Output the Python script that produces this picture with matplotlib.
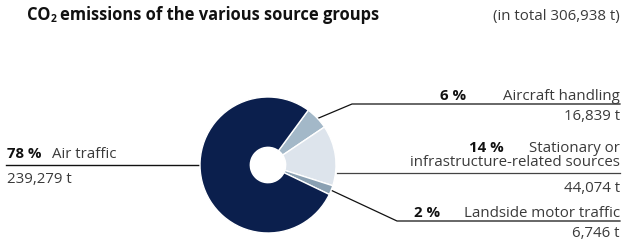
import numpy as np
import matplotlib
matplotlib.use("Agg")
import matplotlib.pyplot as plt

# Data
categories = ["Aircraft handling", "Stationary or\ninfrastructure-related sources",
              "Landside motor traffic", "Air traffic"]
values_t = [16839, 44074, 6746, 239279]
percent_labels = ["6 %", "14 %", "2 %", "78 %"]
tonnage_labels = ["16,839 t", "44,074 t", "6,746 t", "239,279 t"]
total_label = "(in total 306,938 t)"

colors = ["#a3b8c8", "#dde4ec", "#8aa0b2", "#0b1f4d"]
FONT = "Open Sans"
TXT = "#3a3a3a"

W, H = 624, 243
fig = plt.figure(figsize=(W / 100, H / 100), dpi=100)
ov = fig.add_axes([0, 0, 1, 1])
ov.set_xlim(0, W)
ov.set_ylim(H, 0)
ov.axis("off")

# pie geometry (pixels)
cx, cy, R = 268, 165, 68
pax = fig.add_axes([(cx - R) / W, (H - cy - R) / H, 2 * R / W, 2 * R / H])
wedges, _ = pax.pie(values_t, colors=colors, startangle=53.7, counterclock=False,
                    radius=1, wedgeprops=dict(width=0.74, edgecolor="white", linewidth=1))
pax.set_xlim(-1, 1)
pax.set_ylim(-1, 1)
pax.set_aspect("equal")
pax.axis("off")

def rim(theta, r=1.0):
    t = np.deg2rad(theta)
    return cx + R * r * np.cos(t), cy - R * r * np.sin(t)

fs = 10.8
tfs = 11.9
# Title (CO₂ built from pieces for a proper subscript)
t_co = ov.text(27, 20, "CO", fontsize=tfs, fontweight="bold", family=FONT, color="#111111",
               va="baseline", ha="left")
fig.canvas.draw()
bb = t_co.get_window_extent()
t_2 = ov.text(bb.x1 + 0.5, 22.5, "2", fontsize=7.5, fontweight="bold", family=FONT,
              color="#111111", va="baseline", ha="left", transform=None)
t_2.set_transform(matplotlib.transforms.blended_transform_factory(
    matplotlib.transforms.IdentityTransform(), ov.transData))
fig.canvas.draw()
bb2 = t_2.get_window_extent()
t_rest = ov.text(bb2.x1 + 3, 20, "emissions of the various source groups", fontsize=tfs,
                 fontweight="bold", family=FONT, color="#111111", va="baseline", ha="left")
t_rest.set_transform(matplotlib.transforms.blended_transform_factory(
    matplotlib.transforms.IdentityTransform(), ov.transData))
ov.text(620, 20, total_label, fontsize=fs, family=FONT, color=TXT, va="baseline", ha="right")

# Left label: Air traffic
lc = "#111111"
ov.plot([6, cx - R], [164.5, 164.5], color=lc, lw=1)
ov.text(7, 158, percent_labels[3], fontsize=fs, fontweight="bold", family=FONT,
        color="#111111", ha="left", va="baseline")
ov.text(52, 158, categories[3], fontsize=fs, family=FONT, color=TXT, ha="left", va="baseline")
ov.text(7, 183, tonnage_labels[3], fontsize=fs, family=FONT, color=TXT, ha="left", va="baseline")

# Aircraft handling
w = wedges[0]
mid = (w.theta1 + w.theta2) / 2
x0, y0 = rim(mid, 0.97)
ov.plot([x0, 352, 620], [y0, 104, 104], color=lc, lw=0.9)
ov.text(466, 100, percent_labels[0], fontsize=fs, fontweight="bold", family=FONT,
        color="#111111", ha="right", va="baseline")
ov.text(620, 100, categories[0], fontsize=fs, family=FONT, color=TXT, ha="right", va="baseline")
ov.text(620, 120, tonnage_labels[0], fontsize=fs, family=FONT, color=TXT, ha="right", va="baseline")

# Stationary
ov.plot([cx + R + 1, 620], [172.7, 172.7], color="#444444", lw=0.9)
ov.text(504, 151.5, percent_labels[1], fontsize=fs, fontweight="bold", family=FONT,
        color="#111111", ha="right", va="baseline")
ov.text(620, 151.5, "Stationary or", fontsize=fs, family=FONT, color=TXT, ha="right", va="baseline")
ov.text(620, 166, "infrastructure-related sources", fontsize=fs, family=FONT, color=TXT,
        ha="right", va="baseline")
ov.text(620, 191.5, tonnage_labels[1], fontsize=fs, family=FONT, color=TXT, ha="right", va="baseline")

# Landside
w = wedges[2]
mid = (w.theta1 + w.theta2) / 2
x0, y0 = rim(mid, 0.97)
ov.plot([x0, 397, 620], [y0, 221, 221], color=lc, lw=0.9)
ov.text(440, 216.5, percent_labels[2], fontsize=fs, fontweight="bold", family=FONT,
        color="#111111", ha="right", va="baseline")
ov.text(620, 216.5, categories[2], fontsize=fs, family=FONT, color=TXT, ha="right", va="baseline")
ov.text(620, 236.5, tonnage_labels[2], fontsize=fs, family=FONT, color=TXT, ha="right", va="baseline")

fig.savefig("out.png", dpi=100, facecolor="white")
